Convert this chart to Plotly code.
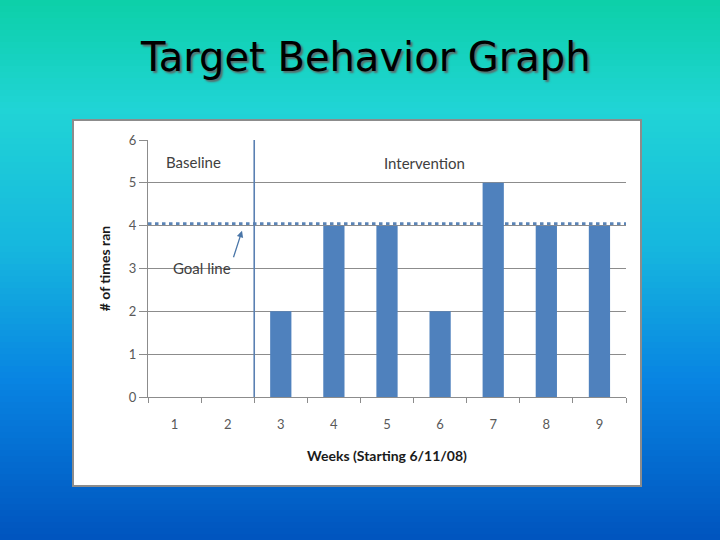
import plotly.graph_objects as go

# data
WEEKS = [1, 2, 3, 4, 5, 6, 7, 8, 9]
TIMES_RAN = [0, 0, 2, 4, 4, 2, 5, 4, 4]
GOAL = 4
PHASE_CHANGE = 2.5  # between week 2 and 3
Y_TICKS = [0, 1, 2, 3, 4, 5, 6]

W, H = 720, 540
L, R, T, B = 148, 94, 140, 143
PW, PH = W - L - R, H - T - B

def px_x(p): return (p - L) / PW
def px_y(p): return (H - B - p) / PH

# background gradient stops (page y px, rgb)
STOPS = [(0, (12, 208, 168)), (110, (32, 212, 214)), (250, (22, 182, 222)),
         (380, (8, 132, 226)), (540, (0, 84, 190))]

def grad(y):
    for (y0, c0), (y1, c1) in zip(STOPS, STOPS[1:]):
        if y0 <= y <= y1:
            t = (y - y0) / (y1 - y0)
            return "rgb(%d,%d,%d)" % tuple(round(a + (b - a) * t) for a, b in zip(c0, c1))
    return "rgb(%d,%d,%d)" % STOPS[-1][1]

shapes = []
step = 6
for y in range(0, H, step):
    shapes.append(dict(type="rect", xref="paper", yref="paper", layer="below",
                       x0=px_x(0), x1=px_x(W), y0=px_y(y + step + 1), y1=px_y(y),
                       fillcolor=grad(y + step / 2), line=dict(width=0)))
# white chart box
shapes.append(dict(type="rect", xref="paper", yref="paper", layer="below",
                   x0=px_x(73), x1=px_x(641), y0=px_y(486), y1=px_y(120),
                   fillcolor="white", line=dict(color="#8c8c8c", width=2)))
# goal line
shapes.append(dict(type="line", xref="paper", yref="y", layer="below",
                   x0=0, x1=1, y0=GOAL + 0.04, y1=GOAL + 0.04,
                   line=dict(color="#5b84b6", width=3.5, dash="dot")))
# phase change line
shapes.append(dict(type="line", xref="x", yref="y", layer="above",
                   x0=PHASE_CHANGE, x1=PHASE_CHANGE, y0=0, y1=6.07,
                   line=dict(color="#5a80b2", width=1.6)))

fig = go.Figure(go.Bar(x=WEEKS, y=TIMES_RAN, width=0.4,
                       marker=dict(color="#4f81bd", line=dict(width=0))))

txt = dict(family="Lato, Open Sans, sans-serif", size=15, color="#404040")
annotations = [
    dict(text="Target Behavior Graph", xref="paper", yref="paper",
         x=px_x(365), y=px_y(57), yanchor="middle", showarrow=False,
         font=dict(family="DejaVu Sans", size=40, color="black",
                   shadow="2px 2px 2px #5a6a6a")),
    dict(text="Baseline", x=1.35, y=5.49, showarrow=False, font=txt),
    dict(text="Intervention", x=5.70, y=5.46, showarrow=False, font=txt),
    dict(text="Goal line", x=1.52, y=3.01, showarrow=False, font=txt),
    dict(text="", x=2.27, y=3.88, ax=-9, ay=28, showarrow=True,
         arrowhead=2, arrowsize=1, arrowwidth=1.3, arrowcolor="#4a76a8"),
]

fig.update_layout(
    width=W, height=H, margin=dict(l=L, r=R, t=T, b=B),
    paper_bgcolor="#1aa8d8", plot_bgcolor="rgba(0,0,0,0)",
    showlegend=False, shapes=shapes, annotations=annotations,
    font=dict(family="Lato, Open Sans, sans-serif", color="#595959"),
    xaxis=dict(range=[0.5, 9.5], tickvals=WEEKS, ticks="outside", ticklen=15,
               tickcolor="rgba(0,0,0,0)", showgrid=False, zeroline=False,
               showline=True, linecolor="#8c8c8c", linewidth=1,
               tickfont=dict(size=13, color="#595959"),
               minor=dict(ticks="outside", tick0=0.5, dtick=1, ticklen=5,
                          tickcolor="#8c8c8c", showgrid=False),
               title=dict(text="<b>Weeks (Starting 6/11/08)</b>", standoff=20,
                          font=dict(size=14, color="#1a1a1a"))),
    yaxis=dict(range=[0, 6], tickvals=Y_TICKS, ticks="outside", ticklen=8,
               tickcolor="#8c8c8c", showgrid=True, gridcolor="#8c8c8c",
               gridwidth=1, zeroline=False, showline=True, linecolor="#8c8c8c",
               tickfont=dict(size=13, color="#595959"),
               title=dict(text="<b># of times ran</b>", standoff=14,
                          font=dict(size=14, color="#1a1a1a"))),
)

fig.write_html("out.html", config={"displayModeBar": False},
               post_script="document.body.style.margin='0';")
